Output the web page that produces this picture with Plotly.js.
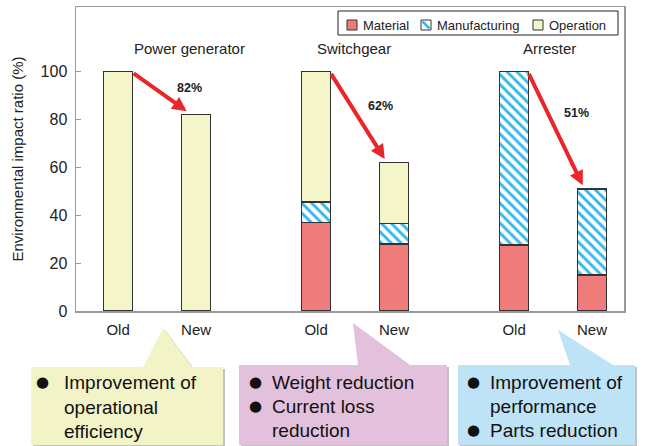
<!DOCTYPE html>
<html><head><meta charset="utf-8">
<script src="https://cdn.plot.ly/plotly-3.0.1.min.js"></script>
<style>html,body{margin:0;padding:0;background:#fff}#chart{width:646px;height:446px}</style>
</head><body><div id="chart"></div>
<script>
// ---- data ----
const groups = ['Power generator', 'Switchgear', 'Arrester'];
const versions = ['Old', 'New'];
const seriesNames = ['Material', 'Manufacturing', 'Operation'];
// order: PG Old, PG New, SW Old, SW New, AR Old, AR New
const material      = [null, null, 37,   28,   27.5, 15];
const manufacturing = [null, null, 8.5,  8.5,  72.5, 36];
const operation     = [100,  82,   54.5, 25.5, null, null];
const reductionLabels = ['82%', '62%', '51%'];
const notes = [
  [['●', 'Improvement of'], ['', 'operational'], ['', 'efficiency']],
  [['●', 'Weight reduction'], ['●', 'Current loss'], ['', 'reduction']],
  [['●', 'Improvement of'], ['', 'performance'], ['●', 'Parts reduction']]
];

// ---- layout helpers ----
const W = 646, H = 446, M = {l: 76, r: 22, t: 7, b: 135};
const PW = W - M.l - M.r, PH = H - M.t - M.b;
const X = px => (px - M.l) / PW;
const Y = py => (H - M.b - py) / PH;
const groupStep = 2.54, pairStep = 1;
const xs = [], ticktext = [];
groups.forEach((g, gi) => versions.forEach((v, vi) => { xs.push(gi * groupStep + vi * pairStep); ticktext.push(v); }));
const colors = {Material: '#f07b7b', Manufacturing: '#ffffff', Operation: '#f4f5c9'};
const lineStyle = {color: '#333333', width: 1.5};
const barW = 0.37;

const traces = [
  {type: 'bar', name: seriesNames[0], x: xs, y: material, width: barW,
   marker: {color: colors.Material, line: lineStyle}},
  {type: 'bar', name: seriesNames[1], x: xs, y: manufacturing, width: barW,
   marker: {color: '#ffffff', line: lineStyle,
            pattern: {shape: '\\', fgcolor: '#35b6e8', bgcolor: '#ffffff', size: 7, solidity: 0.42}}},
  {type: 'bar', name: seriesNames[2], x: xs, y: operation, width: barW,
   marker: {color: colors.Operation, line: lineStyle}}
];

const totals = xs.map((_, i) => (material[i] || 0) + (manufacturing[i] || 0) + (operation[i] || 0));
const annotations = [];
const shapes = [];

// group titles
const titleDx = [0.92, 3.03, 5.54];
groups.forEach((g, gi) => annotations.push({
  x: titleDx[gi], y: 109.5, xref: 'x', yref: 'y', text: g, showarrow: false,
  font: {size: 15, color: '#222'}, xanchor: 'center', yanchor: 'middle'
}));

// arrows and reduction labels
const labelPos = [[0.92, 93.2], [3.36, 85.7], [5.88, 82.7]];
groups.forEach((g, gi) => {
  const io = gi * 2, inew = gi * 2 + 1;
  annotations.push({
    x: xs[inew] - 0.12, y: totals[inew] + 1.5, xref: 'x', yref: 'y',
    ax: xs[io] + 0.18, ay: totals[io] - 0.3, axref: 'x', ayref: 'y',
    text: '', showarrow: true, arrowhead: 2, arrowsize: 0.72, arrowwidth: 4, arrowcolor: '#e8262b'
  });
  annotations.push({
    x: labelPos[gi][0], y: labelPos[gi][1], xref: 'x', yref: 'y', text: '<b>' + reductionLabels[gi] + '</b>',
    showarrow: false, font: {size: 12.5, color: '#222'}, xanchor: 'center', yanchor: 'middle'
  });
});

// custom legend
shapes.push({type: 'rect', xref: 'paper', yref: 'paper', x0: X(338), x1: X(618), y0: Y(11), y1: Y(35),
  line: {color: '#222', width: 1}, fillcolor: '#ffffff'});
const legX = [347, 421, 533];
seriesNames.forEach((n, i) => {
  const x0 = legX[i];
  shapes.push({type: 'rect', xref: 'paper', yref: 'paper', x0: X(x0), x1: X(x0 + 10), y0: Y(20), y1: Y(30),
    line: {color: '#333', width: 1}, fillcolor: n === 'Manufacturing' ? '#ffffff' : colors[n]});
  if (n === 'Manufacturing') {
    shapes.push({type: 'line', xref: 'paper', yref: 'paper', x0: X(x0 + 1.5), y0: Y(21.5), x1: X(x0 + 8.5), y1: Y(28.5),
      line: {color: '#35b6e8', width: 2.5}});
  }
  annotations.push({xref: 'paper', yref: 'paper', x: X(x0 + 14), y: Y(25), text: n, showarrow: false,
    xanchor: 'left', yanchor: 'middle', font: {size: 13, color: '#222'}});
});

// callout boxes
const boxes = [
  {fill: '#f3f3c8', pts: [[31,367],[143,367],[163,328],[192,367],[223,367],[223,445],[31,445]], bx: 42, tx: 62, ys: [382, 407, 431]},
  {fill: '#e3c0dc', pts: [[239,365],[358,365],[353,323],[410,365],[447,365],[447,445],[239,445]], bx: 255, tx: 270, ys: [382, 406, 430]},
  {fill: '#bfe3f6', pts: [[458,365],[570,365],[558,330],[613,365],[635,365],[635,445],[458,445]], bx: 474, tx: 488, ys: [382, 406, 430]}
];
boxes.forEach((b, bi) => {
  const path = pts => 'M' + pts.map(p => X(p[0]) + ',' + Y(p[1])).join(' L') + ' Z';
  shapes.push({type: 'path', xref: 'paper', yref: 'paper', path: path(b.pts.map(p => [p[0] + 2, p[1] + 2])),
    fillcolor: 'rgba(120,120,120,0.45)', line: {width: 0}});
  shapes.push({type: 'path', xref: 'paper', yref: 'paper', path: path(b.pts),
    fillcolor: b.fill, line: {width: 0}});
  notes[bi].forEach((ln, li) => {
    if (ln[0]) annotations.push({xref: 'paper', yref: 'paper', x: X(b.bx), y: Y(b.ys[li]), text: ln[0], showarrow: false,
      xanchor: 'center', yanchor: 'middle', font: {family: 'DejaVu Sans', size: 15, color: '#111'}});
    annotations.push({xref: 'paper', yref: 'paper', x: X(b.tx), y: Y(b.ys[li]), text: ln[1], showarrow: false,
      xanchor: 'left', yanchor: 'middle', font: {size: 19, color: '#111'}});
  });
});

const layout = {
  width: W, height: H, margin: M, barmode: 'stack', showlegend: false,
  paper_bgcolor: '#ffffff', plot_bgcolor: '#ffffff',
  font: {family: 'Liberation Sans, Arial, sans-serif', color: '#222'},
  xaxis: {range: [-0.54, 6.49], tickvals: xs, ticktext: ticktext, showgrid: false, zeroline: false,
    showline: true, mirror: true, linecolor: '#9a9a9a', linewidth: 1.5, ticks: '',
    tickfont: {size: 15, color: '#222'}, ticklabelstandoff: 4},
  yaxis: {range: [0, 127], tickvals: [0, 20, 40, 60, 80, 100], showgrid: false, zeroline: false,
    showline: true, mirror: true, linecolor: '#9a9a9a', linewidth: 1.5, ticks: 'inside', ticklen: 5,
    tickcolor: '#9a9a9a', tickfont: {size: 16, color: '#222'}, ticklabelstandoff: 4,
    title: {text: 'Environmental impact ratio (%)', font: {size: 15, color: '#222'}, standoff: 13}},
  annotations: annotations, shapes: shapes
};
Plotly.newPlot('chart', traces, layout, {displayModeBar: false, staticPlot: true});
</script></body></html>
